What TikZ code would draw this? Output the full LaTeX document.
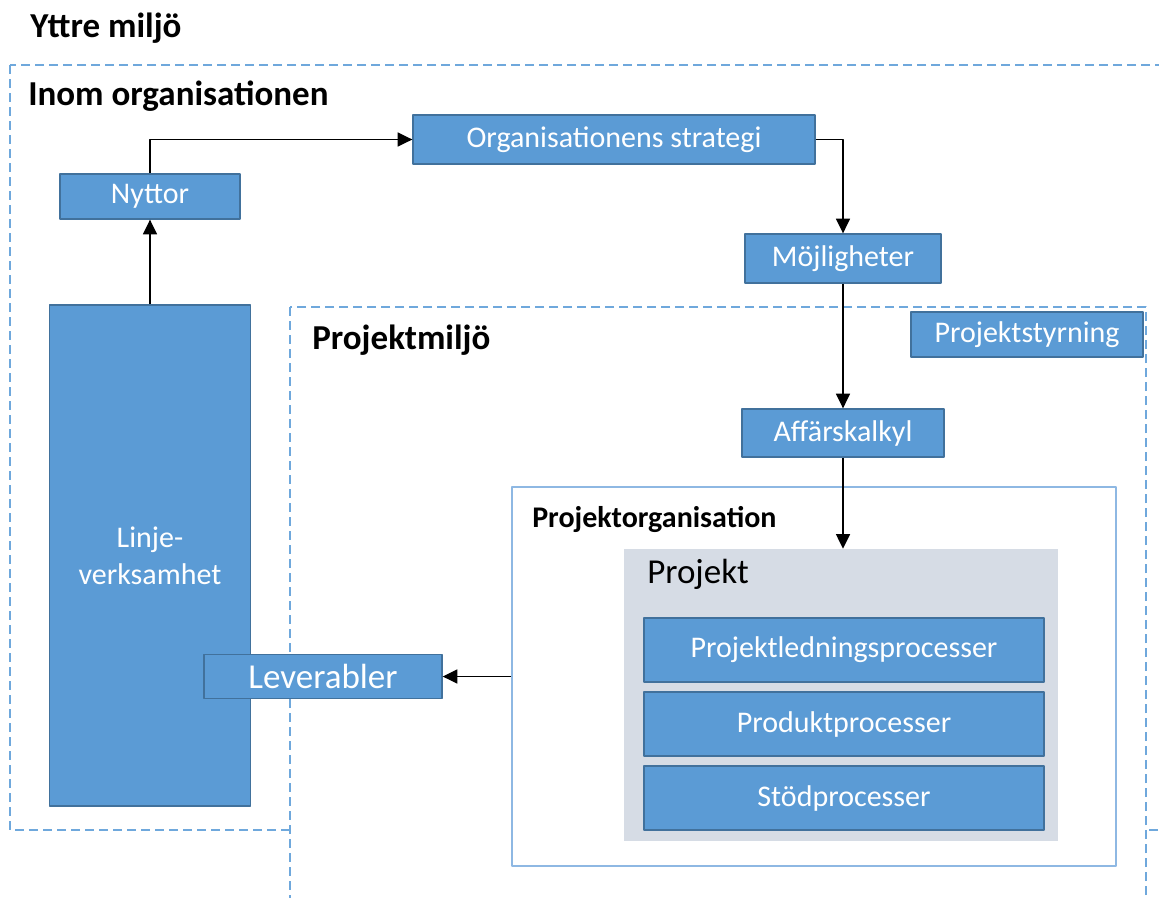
\documentclass[tikz,border=0pt]{standalone}
\usepackage{fontspec}
\setmainfont{Carlito}
\usepackage{xcolor}
\usetikzlibrary{arrows.meta}
\definecolor{boxblue}{HTML}{5B9BD5}
\definecolor{boxedge}{HTML}{41719C}
\definecolor{frameblue}{HTML}{6FA8DC}
\definecolor{orgedge}{HTML}{8EB8E3}
\definecolor{projgrey}{HTML}{D6DCE5}
\tikzset{
  blueBox/.style={draw=boxedge, fill=boxblue, line width=1pt, text=white, inner sep=0pt,
    font=\fontsize{22.5}{27.75}\selectfont},
  envFrame/.style={draw=frameblue, line width=1.5pt, dash pattern=on 6.5pt off 4pt},
  envTitle/.style={anchor=base west, inner sep=0pt, font=\fontsize{26.25}{30}\selectfont\bfseries},
  flow/.style={->, line width=1.1pt, black},
}

\begin{document}
\begin{tikzpicture}[x=0.75pt,y=-0.75pt,>={Triangle[length=11pt,width=10.5pt]},line join=bevel]
\clip (0,0) rectangle (1159,897);
%%
\draw[envFrame] (10,65) rectangle (1180,830);
\draw[envFrame, fill=white] (290,307) rectangle (1146,915);
\node (yttre) at (30,37) [envTitle] {Yttre miljö};
\node (inom) at (28,105) [envTitle] {Inom organisationen};
\node (projmiljo) at (312,349) [envTitle] {Projektmiljö};
%
\node (linje) at (150,555.5) [blueBox, minimum width=150.75pt, minimum height=375.75pt, align=center] {Linje-\\verksamhet};
\node (nyttor) at (150,196.5) [blueBox, minimum width=135pt, minimum height=33.75pt] {Nyttor};
\node (strategi) at (614,139.5) [blueBox, minimum width=301.5pt, minimum height=36.75pt] {Organisationens strategi};
\node (mojligheter) at (843,258.5) [blueBox, minimum width=147pt, minimum height=36.75pt] {Möjligheter};
\node (styrning) at (1027,334.5) [blueBox, minimum width=174pt, minimum height=33.75pt] {Projektstyrning};
\node (kalkyl) at (843,433) [blueBox, minimum width=151.5pt, minimum height=36pt] {Affärskalkyl};
%
\node (projorg) at (814,676.5) [draw=orgedge, fill=white, line width=1.5pt, minimum width=453pt, minimum height=284.25pt] {};
\node (projorg_title) at (532,527) [anchor=base west, inner sep=0pt, font=\fontsize{22.5}{27}\selectfont\bfseries] {Projektorganisation};
\node (projekt) at (841,695) [fill=projgrey, minimum width=325.5pt, minimum height=219pt] {};
\node (projekt_title) at (647,583) [anchor=base west, inner sep=0pt, font=\fontsize{26.25}{30}\selectfont] {Projekt};
\node (proc_1) at (844,650) [blueBox, minimum width=300pt, minimum height=48pt] {Projektledningsprocesser};
\node (proc_2) at (844,724) [blueBox, minimum width=300pt, minimum height=48pt] {Produktprocesser};
\node (proc_3) at (844,798) [blueBox, minimum width=300pt, minimum height=48pt] {Stödprocesser};
\node (leverabler) at (323,676.5) [blueBox, minimum width=178.5pt, minimum height=33pt, font=\fontsize{26.25}{30}\selectfont] {Leverabler};
%
\draw[flow] (linje.north) -- (nyttor.south);
\draw[flow] (nyttor.north) |- (strategi.west);
\draw[flow] (strategi.east) -| (mojligheter.north);
\draw[flow] (mojligheter.south) -- (kalkyl.north);
\draw[flow] (kalkyl.south) -- (kalkyl.south |- projekt.north);
\draw[flow] (projorg.west) -- (leverabler.east);
%
\end{tikzpicture}
\end{document}
